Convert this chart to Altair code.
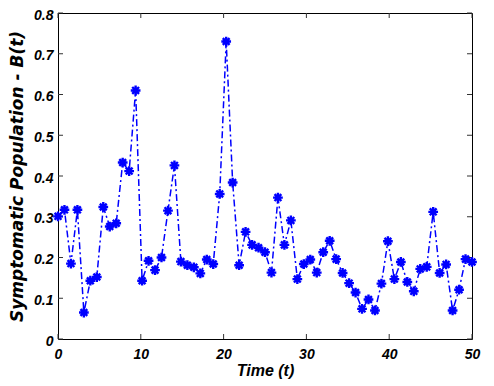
import altair as alt
import pandas as pd

time = [0, 0.78125, 1.5625, 2.34375, 3.125, 3.90625, 4.6875, 5.46875, 6.25, 7.03125,
        7.8125, 8.59375, 9.375, 10.15625, 10.9375, 11.71875, 12.5, 13.28125, 14.0625, 14.84375,
        15.625, 16.40625, 17.1875, 17.96875, 18.75, 19.53125, 20.3125, 21.09375, 21.875, 22.65625,
        23.4375, 24.21875, 25, 25.78125, 26.5625, 27.34375, 28.125, 28.90625, 29.6875, 30.46875,
        31.25, 32.03125, 32.8125, 33.59375, 34.375, 35.15625, 35.9375, 36.71875, 37.5, 38.28125,
        39.0625, 39.84375, 40.625, 41.40625, 42.1875, 42.96875, 43.75, 44.53125, 45.3125, 46.09375,
        46.875, 47.65625, 48.4375, 49.21875, 50]
population = [0.301, 0.317, 0.185, 0.317, 0.065, 0.143, 0.152, 0.324, 0.276, 0.284,
              0.433, 0.412, 0.610, 0.143, 0.192, 0.169, 0.200, 0.315, 0.426, 0.190,
              0.181, 0.176, 0.161, 0.195, 0.184, 0.356, 0.730, 0.384, 0.181, 0.263,
              0.231, 0.224, 0.213, 0.163, 0.347, 0.231, 0.291, 0.147, 0.184, 0.195,
              0.163, 0.213, 0.241, 0.196, 0.162, 0.137, 0.114, 0.074, 0.097, 0.070,
              0.136, 0.240, 0.147, 0.189, 0.140, 0.117, 0.172, 0.177, 0.312, 0.162,
              0.183, 0.070, 0.121, 0.196, 0.189]
x_ticks = [0, 10, 20, 30, 40, 50]
y_ticks = [0, 0.1, 0.2, 0.3, 0.4, 0.5, 0.6, 0.7, 0.8]

df = pd.DataFrame({"t": time, "B": population})
dfx = pd.DataFrame({"tx": x_ticks})
dfy = pd.DataFrame({"ty": y_ticks})

W, H = 414, 326
FONT = "Liberation Sans"
BLUE = "#0000ff"

xscale = alt.Scale(domain=[0, 50], nice=False, zero=False)
yscale = alt.Scale(domain=[0, 0.8], nice=False)

xaxis = alt.Axis(values=x_ticks, format="d", ticks=False, domain=False, grid=False,
                 labelFont=FONT, labelFontSize=14, labelFontWeight="bold", labelFontStyle="italic",
                 labelColor="black", labelPadding=8, labelFlush=False,
                 title="Time (t)", titleFont=FONT, titleFontSize=16, titleFontWeight="bold",
                 titleFontStyle="italic", titleColor="black", titlePadding=1)
yaxis = alt.Axis(values=y_ticks, ticks=False, domain=False, grid=False,
                 labelExpr="datum.value == 0 ? '0' : format(datum.value, '.1f')",
                 labelFont=FONT, labelFontSize=14, labelFontWeight="bold", labelFontStyle="italic",
                 labelColor="black", labelPadding=5, labelFlush=False, labelOffset=2,
                 title="Symptomatic Population - B(t)", titleFont="DejaVu Sans", titleFontSize=17,
                 titleFontWeight="bold", titleFontStyle="italic", titleColor="black", titlePadding=7)

line = alt.Chart(df).mark_line(color=BLUE, strokeWidth=1.5, strokeDash=[7, 3, 2, 3]).encode(
    x=alt.X("t:Q", scale=xscale, axis=xaxis),
    y=alt.Y("B:Q", scale=yscale, axis=yaxis),
)

star = "M-1,0L1,0M0,-1L0,1M-0.7,-0.7L0.7,0.7M-0.7,0.7L0.7,-0.7"
pts = alt.Chart(df).mark_point(shape=star, filled=False, color=BLUE, strokeWidth=2.4,
                               size=95, opacity=1).encode(
    x=alt.X("t:Q", scale=xscale),
    y=alt.Y("B:Q", scale=yscale),
)

tick_color = "#333333"
bottom = alt.Chart(dfx).mark_rule(color=tick_color, strokeWidth=1).encode(
    x=alt.X("tx:Q", scale=xscale), y=alt.value(H), y2=alt.value(H - 5))
top = alt.Chart(dfx).mark_rule(color=tick_color, strokeWidth=1).encode(
    x=alt.X("tx:Q", scale=xscale), y=alt.value(0), y2=alt.value(5))
left = alt.Chart(dfy).mark_rule(color=tick_color, strokeWidth=1).encode(
    y=alt.Y("ty:Q", scale=yscale), x=alt.value(0), x2=alt.value(5))
right = alt.Chart(dfy).mark_rule(color=tick_color, strokeWidth=1).encode(
    y=alt.Y("ty:Q", scale=yscale), x=alt.value(W), x2=alt.value(W - 5))

chart = alt.layer(bottom, top, left, right, line, pts).properties(
    width=W, height=H,
    autosize=alt.AutoSizeParams(type="none"),
    padding={"left": 50, "top": 5, "right": 14, "bottom": 40},
    background="white",
).configure_view(stroke="black", strokeWidth=1)

chart.save("out.html", embed_options={"renderer": "svg", "actions": False})
